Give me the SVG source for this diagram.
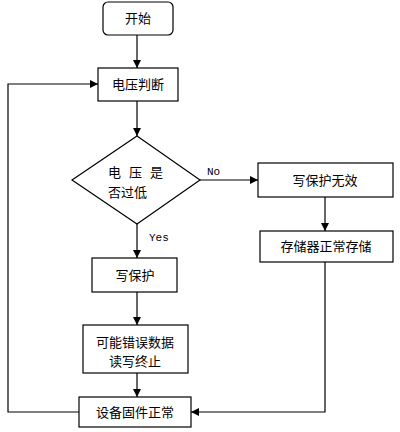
<svg xmlns="http://www.w3.org/2000/svg" width="400" height="432" viewBox="0 0 400 432">
<style>
.b{fill:#fff;stroke:#000;stroke-width:1.2}
.t{font-family:"Noto Sans CJK SC","Noto Sans CJK JP",sans-serif;font-size:13px;fill:#000}
.m{text-anchor:middle}
.l{font-family:"Liberation Mono","DejaVu Sans Mono",monospace;font-size:11px;fill:#000}
.c{fill:none;stroke:#000;stroke-width:1.2}
</style>
<defs>
<marker id="a" markerWidth="8" markerHeight="8" refX="8" refY="4" orient="auto" markerUnits="userSpaceOnUse">
<path d="M0,0 L8,4 L0,8 Z" fill="#000"/>
</marker>
</defs>
<g id="connectors">
<line class="c" x1="137" y1="35" x2="137" y2="68" marker-end="url(#a)"/>
<line class="c" x1="137" y1="101" x2="137" y2="136" marker-end="url(#a)"/>
<line class="c" x1="200" y1="180" x2="258" y2="180" marker-end="url(#a)"/>
<line class="c" x1="137" y1="224" x2="137" y2="258" marker-end="url(#a)"/>
<line class="c" x1="325" y1="197" x2="325" y2="231" marker-end="url(#a)"/>
<line class="c" x1="137" y1="292" x2="137" y2="325" marker-end="url(#a)"/>
<line class="c" x1="137" y1="373" x2="137" y2="397" marker-end="url(#a)"/>
<polyline class="c" points="325,262 325,412 191,412" marker-end="url(#a)"/>
<polyline class="c" points="79,412 8,412 8,84 98,84" marker-end="url(#a)"/>
<text class="l" x="207" y="175">No</text>
<text class="l" x="149" y="241">Yes</text>
</g>
<g id="start">
<rect class="b" x="103" y="2" width="70" height="33" rx="5"/>
<text class="t m" x="138" y="23">开始</text>
</g>
<g id="voltage">
<rect class="b" x="98" y="68" width="80" height="33"/>
<text class="t m" x="138" y="89">电压判断</text>
</g>
<g id="decision">
<polygon class="b" points="137,136 200,180 137,224 72,180"/>
<text class="t" x="108 129 150" y="177">电压是</text>
<text class="t" x="108" y="197">否过低</text>
</g>
<g id="wp-invalid">
<rect class="b" x="258" y="163" width="135" height="34"/>
<text class="t m" x="325" y="185">写保护无效</text>
</g>
<g id="storage">
<rect class="b" x="260" y="231" width="133" height="31"/>
<text class="t m" x="326" y="251">存储器正常存储</text>
</g>
<g id="wp">
<rect class="b" x="92" y="258" width="85" height="34"/>
<text class="t m" x="135" y="280">写保护</text>
</g>
<g id="terminate">
<rect class="b" x="83" y="325" width="105" height="48"/>
<text class="t m" x="135" y="347">可能错误数据</text>
<text class="t m" x="135" y="366">读写终止</text>
</g>
<g id="normal">
<rect class="b" x="79" y="397" width="112" height="30"/>
<text class="t m" x="135" y="417">设备固件正常</text>
</g>
</svg>
